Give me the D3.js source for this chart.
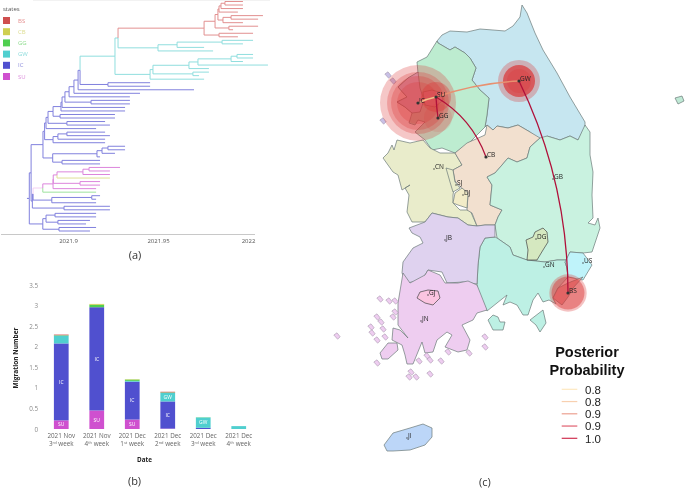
<!DOCTYPE html>
<html><head><meta charset="utf-8">
<script src="https://cdnjs.cloudflare.com/ajax/libs/d3/7.8.5/d3.min.js"></script>
<style>html,body{margin:0;padding:0;background:#fff}svg{display:block;filter:blur(.3px)}text{font-family:"Open Sans",sans-serif}</style>
</head><body><svg id="c" width="685" height="488"></svg>
<script>
// ---------- DATA ----------
const stateNames = ["BS","CB","GG","GW","IC","SU"];
const stateFill = ["#cf4f4f","#cfcf50","#50cf50","#50cfcf","#5050cf","#cf50cf"];
const stateText = ["#e58f8f","#dddd90","#90dd90","#8fdcdc","#8f8fdd","#dd90dd"];
const treeTickValues = [0,50,100];           // thousandths of a year after 2021.9
const treeTickLabels = ["2021.9","2021.95","2022"];
const N=(t,s,...kids)=>({t,s,kids});
const redClade = N(75.6,"BS",
  N(81.7,"BS",
    N(83.3,"BS",
      N(83.9,"BS",N(85,"BS",N(87.2,"BS",N(97.2,"BS"),N(97.2,"BS")),N(97.2,"BS")),N(94.4,"BS")),
      N(86.1,"BS",N(90.6,"BS",N(108.3,"BS"),N(105.6,"BS")),N(97.2,"BS"))),
    N(89.4,"BS",N(105.6,"BS"),N(91.7,"BS"))),
  N(83.9,"BS",N(102.8,"BS"),N(94.4,"BS")));
const cyanUpper = N(50,"GW",N(60.6,"GW",N(85.6,"GW",N(102.8,"GW"),N(97.2,"GW")),N(75.6,"GW")),N(80.6,"GW"));
const cyanLower = N(45.6,"GW",
  N(47.2,"GW",
    N(67.2,"GW",
      N(72.2,"GW",N(90.6,"GW",N(93.9,"GW",N(102.8,"GW"),N(102.8,"GW")),N(97.2,"GW")),N(111.1,"GW")),
      N(78.3,"GW")),
    N(69.4,"GW",N(78.3,"GW"),N(72.8,"GW"))),
  N(75.6,"GW"));
const gwClade = N(26.1,"GW",N(27.8,"GW",redClade,cyanUpper),cyanLower);
const icLadder =
 N(-8.3,"IC",
  N(-3.9,"IC",
   N(-3.3,"IC",
    N(-1.7,"IC",
     N(0.6,"IC",
      N(3.3,"IC",
       N(5.6,"IC",
        N(6.7,"IC",gwClade,N(22.2,"IC",N(45.6,"IC"),N(45.6,"IC"))),
        N(70,"IC")),
       N(40,"IC")),
      N(34.4,"IC")),
     N(12.8,"IC",N(34.4,"IC"),N(34.4,"IC"))),
    N(31.7,"IC")),
   N(31.7,"IC")),
  N(-4.4,"IC",N(26.1,"IC"),N(26.1,"IC")));
const upperBlock = N(-13,"IC",
  N(-12.2,"IC",N(-11.1,"IC",icLadder,N(-0.6,"IC",N(20.6,"IC"),N(23.3,"IC"))),N(15.6,"IC")),
  N(-8.3,"IC",N(-5.6,"IC",N(-0.6,"IC",N(20.6,"IC"),N(23.3,"IC")),N(20.6,"IC")),N(20.6,"IC")));
const midBlock = N(-8.5,"IC",
  N(16.1,"IC",N(18.9,"IC",N(22.2,"IC",N(31.7,"IC"),N(31.7,"IC")),N(26.1,"IC")),N(17.8,"IC")),
  N(-3.3,"IC",N(17.8,"IC"),N(17.8,"IC")));
const suClade = N(-14,"SUL",
  N(-8.3,"SU",
    N(-8.2,"SU",
      N(-6.1,"SU",N(8.3,"SU",N(11.7,"SU",N(28.9,"SU"),N(23.3,"SU")),N(23.3,"SU")),N(23.3,"CB")),
      N(6.7,"SU",N(17.8,"SU"),N(17.8,"SU"))),
    N(15.6,"SU")),
  N(15.6,"GG"));
const lowBlock = N(-19.8,"IC",
  N(-19.4,"IC",suClade,N(-9,"IC",N(13.2,"IC",N(17.8,"IC"),N(15.6,"IC")),N(15.6,"IC"))),
  N(-2.2,"IC",N(23.3,"IC"),N(23.3,"IC")));
const bottomBlock = N(-14,"IC",
  N(-12.2,"IC",N(-7.2,"IC",N(15.6,"IC"),N(15.6,"IC")),N(-5.6,"IC",N(12.2,"IC"),N(10,"IC"))),
  N(-5,"IC",N(15.6,"IC"),N(12.2,"IC")));
const treeRoot = N(-21.5,"IC",N(-20.5,"IC",N(-13.9,"IC",upperBlock,midBlock),lowBlock),bottomBlock);

const weekMonth = ["2021 Nov","2021 Nov","2021 Dec","2021 Dec","2021 Dec","2021 Dec"];
const weekNum = ["3","4","1","2","3","4"];
const weekSup = ["rd","th","st","nd","rd","th"];
const seriesKeys = ["SU","IC","GW","GG","CB","BS"];
const seriesSU = [0.21,0.45,0.23,0.01,0,0];
const seriesIC = [1.87,2.51,0.92,0.66,0.03,0];
const seriesGW = [0.19,0,0.02,0.21,0.25,0.07];
const seriesGG = [0.01,0.06,0.03,0.01,0.005,0];
const seriesCB = [0,0.02,0.01,0,0,0];
const seriesBS = [0.015,0,0,0.015,0,0];
const yTicks = [0,0.5,1,1.5,2,2.5,3,3.5];
const barLabels = [["SU","IC"],["SU","IC"],["SU","IC"],["IC","GW"],["GW"],[]];

// map rings in map units
const ringGW=[[437,41],[442,35],[450,31],[467,32],[480,29],[493,30],[505,31],[513,26],[520,17],[522,5],[527,13],[535,33],[543,50],[557,73],[570,97],[585,122],[585,128],[578,140],[570,136],[560,140],[547,136],[543,142],[537,138],[530,132],[518,125],[508,128],[497,126],[493,130],[487,125],[485,127],[487,115],[489,98],[480,90],[472,80],[476,68],[470,58],[465,53],[455,47],[450,50],[438,43]];
const ringGG=[[437,41],[438,43],[450,50],[455,47],[465,53],[470,58],[476,68],[472,80],[480,90],[489,98],[487,115],[485,127],[470,142],[455,153],[442,148],[432,150],[425,140],[415,132],[425,122],[418,120],[415,125],[409,123],[412,113],[405,107],[397,102],[407,97],[398,87],[408,78],[418,73],[417,62],[427,57]];
const ringIC=[[398,87],[408,78],[418,72],[420,88],[424,100],[420,112],[412,113],[405,107],[397,102],[407,97]];
const ringSU=[[423,92],[432,90],[442,93],[443,100],[435,107],[425,105]];
const ringCB=[[455,153],[467,143],[485,135],[487,125],[493,130],[497,126],[508,128],[518,125],[530,132],[540,138],[530,147],[527,158],[517,162],[508,158],[502,165],[495,173],[487,177],[492,185],[490,205],[502,210],[498,217],[495,225],[485,225],[477,226],[472,213],[467,210],[468,195],[455,181],[453,170],[462,165]];
const ringCN=[[397,140],[410,143],[423,140],[430,148],[440,153],[455,153],[462,165],[453,170],[455,182],[453,195],[453,203],[460,210],[470,210],[473,217],[477,226],[468,225],[458,218],[448,217],[432,213],[425,222],[412,222],[407,212],[409,195],[405,188],[410,185],[402,190],[398,175],[393,172],[383,158],[388,153],[392,145],[394,150]];
const ringSJ=[[446,168],[453,170],[455,182],[460,188],[453,192],[450,182]];
const ringDJ=[[455,193],[462,188],[468,193],[467,208],[458,205],[453,203]];
const ringGB=[[540,138],[547,136],[560,140],[570,136],[578,140],[585,125],[590,132],[590,155],[593,172],[592,195],[593,218],[588,223],[595,225],[598,218],[600,228],[592,252],[583,253],[570,252],[567,260],[557,260],[545,262],[527,260],[513,255],[510,247],[497,238],[495,225],[498,217],[502,210],[490,205],[492,185],[487,177],[495,173],[502,165],[508,158],[517,162],[527,158],[530,147]];
const ringDG=[[535,232],[543,228],[547,232],[548,242],[543,250],[537,260],[527,260],[528,250],[526,240],[533,237]];
const ringUS=[[570,252],[583,253],[592,265],[583,280],[568,277],[567,268],[565,262]];
const ringBS=[[583,277],[573,288],[568,297],[562,305],[553,298],[558,288],[568,283]];
const ringGN=[[495,237],[497,238],[510,247],[513,255],[527,260],[545,262],[557,260],[567,260],[565,262],[567,268],[568,277],[558,288],[553,298],[556,304],[549,300],[543,302],[538,293],[533,300],[528,315],[523,315],[517,305],[510,302],[503,305],[507,295],[497,303],[487,311],[478,293],[477,285],[478,265],[480,247],[485,238]];
const ringNamhae=[[493,315],[498,317],[500,322],[505,322],[503,330],[493,330],[488,320]];
const ringGeoje=[[530,320],[543,310],[546,323],[540,332],[536,325]];
const ringJB=[[432,213],[448,217],[458,218],[468,225],[477,226],[485,225],[495,225],[495,237],[485,238],[480,247],[478,265],[477,284],[463,282],[447,283],[442,272],[428,270],[422,280],[407,283],[402,273],[403,262],[413,248],[423,243],[420,237],[412,233],[409,228],[425,222]];
const ringJN=[[403,273],[410,283],[425,275],[428,270],[440,275],[445,283],[458,283],[468,281],[477,285],[487,310],[477,313],[473,320],[462,325],[470,340],[467,350],[458,352],[445,347],[452,335],[447,332],[437,340],[433,352],[425,353],[422,342],[413,364],[407,364],[405,355],[402,345],[392,340],[393,328],[400,330],[408,338],[398,325],[398,303]];
const ringJindo=[[380,353],[388,343],[397,343],[398,350],[388,359],[382,359]];
const ringGJ=[[417,298],[420,292],[428,290],[438,291],[440,298],[433,305],[425,303]];
const ringJI=[[384,445],[393,433],[410,428],[423,424],[432,428],[432,437],[425,445],[410,450],[393,451],[387,451]];
const ringUL=[[675,98],[682,96],[684,101],[678,104]];
const isletsJN=[[380,299],[389,301],[395,301],[395,312],[377,317],[381,322],[393,317],[383,329],[371,327],[372,333],[377,340],[385,337],[337,336],[377,363],[411,372],[409,377],[416,377],[430,374],[441,361],[419,361],[427,356],[430,360],[448,352],[469,353],[485,347],[485,337]];
const isletsIC=[[388,75],[393,81],[383,121]];

const regions=[
 [ringGW,"#c6e6f0"],[ringGG,"#bdecd0"],[ringIC,"#d8cfee"],[ringSU,"#d8d8ee"],[ringCN,"#e9eccb"],[ringCB,"#f2e0cf"],
 [ringSJ,"#e9eccb"],[ringDJ,"#f2ecc8"],[ringGB,"#c9f2e0"],[ringGN,"#bdf0e4"],[ringNamhae,"#bdf0e4"],[ringGeoje,"#bdf0e4"],
 [ringDG,"#d5e8c0"],[ringUS,"#bff3fa"],[ringBS,"#eeb0b0"],[ringJB,"#dfd2ef"],[ringJN,"#eecdf0"],[ringJindo,"#eecdf0"],
 [ringGJ,"#fbc4e0"],[ringJI,"#bcd6f8"],[ringUL,"#bfe9d5"]];

const siteNames=["IC","SU","GG","GW","CB","BS","CN","SJ","DJ","GB","DG","JB","GN","US","GJ","JN","JI"];
const siteX=[418,436,438,519,486,568,434,456,463,553,536,445,544,583,428,421,407];
const siteY=[103,97,118,81,157,293,169,185,195,179,239,240,267,263,295,321,438];
const supportFrom=["IC","SU","SU","SU","GW"];
const supportTo=["SU","GW","GG","CB","BS"];
const supportProb=[0.80,0.85,1.0,1.0,1.0];
const supportBend=[-0.06,-0.07,0.02,-0.18,-0.115];
const pulseSite=["IC","IC","IC","IC","SU","GG","GW","GW","GW","BS","BS"];
const pulseSize=[38,31,27,21,15,14,21,16,12,18.7,16.5];
const pulseAlpha=[.28,.28,.28,.25,.35,.12,.3,.7,.25,.3,.45];
const legendTitle=["Posterior","Probability"];
const legendLabels=["0.8","0.8","0.9","0.9","1.0"];
const legendColors=["#fde8c0","#f8d0b0","#eca090","#e06070","#d03050"];

// ---------- PANEL A ----------
const svg=d3.select("#c");
const colorOf=s=>({BS:"#e08a8a",CB:"#dede90",GG:"#98e098",GW:"#8adcdc",IC:"#7a7adb",SU:"#da80da",SUL:"#f2cff2"})[s];
const xT=d3.scaleLinear().domain([0,100]).range([68,248]);
const yT=d3.scaleLinear().domain([0,65]).range([1.5,231]);
const gA=svg.append("g");
const rootH=d3.hierarchy(treeRoot,d=>d.kids);
rootH.leaves().forEach((l,i)=>l.row=i);
rootH.eachAfter(n=>{ if(n.children) n.row=(n.children[0].row+n.children[n.children.length-1].row)/2; });
gA.append("line").attr("x1",33).attr("x2",270).attr("y1",.5).attr("y2",.5).attr("stroke","#f2f2f2");
gA.selectAll("path.b").data(rootH.links()).join("path").attr("class","b").attr("fill","none")
  .attr("stroke",d=>colorOf(d.target.data.s)).attr("stroke-width",.95)
  .attr("d",d=>{const p=d3.path();p.moveTo(xT(d.source.data.t),yT(d.source.row));p.lineTo(xT(d.source.data.t),yT(d.target.row));p.lineTo(xT(d.target.data.t),yT(d.target.row));return p.toString();});
gA.append("path").attr("fill","none").attr("stroke",colorOf("IC")).attr("d",()=>{const p=d3.path();p.moveTo(xT(-22.8),yT(rootH.row));p.lineTo(xT(treeRoot.t),yT(rootH.row));return p.toString();});
const axT=gA.append("g").attr("transform","translate(0,234)").call(d3.axisBottom(xT).tickValues(treeTickValues).tickSize(0).tickFormat((d,i)=>treeTickLabels[i]));
axT.select(".domain").remove();
gA.append("line").attr("x1",1).attr("x2",255).attr("y1",234.5).attr("y2",234.5).attr("stroke","#c8c8c8");
axT.selectAll("text").attr("dy",0).attr("y",9).style("font-size","6px").attr("fill","#555");
const leg=gA.append("g");
leg.append("text").attr("x",3).attr("y",11).text("states").style("font-size","6px").attr("fill","#555");
const yLeg=d3.scalePoint().domain(stateNames).range([20.5,76.5]);
leg.selectAll("rect").data(stateNames).join("rect").attr("x",3).attr("width",7).attr("y",d=>yLeg(d)-3.5).attr("height",7).attr("fill",(d,i)=>stateFill[i]);
leg.selectAll("text.s").data(stateNames).join("text").attr("class","s").attr("x",18).attr("y",d=>yLeg(d)+2).text(d=>d).style("font-size","6px").attr("fill",(d,i)=>stateText[i]);
const caption=(t,x,y)=>svg.append("text").attr("x",x).attr("y",y).attr("text-anchor","middle").text(t).style("font-size","11px").attr("fill","#333");
caption("(a)",135,259);

// ---------- PANEL B ----------
const rows=weekNum.map((w,i)=>({i,SU:seriesSU[i],IC:seriesIC[i],GW:seriesGW[i],GG:seriesGG[i],CB:seriesCB[i],BS:seriesBS[i]}));
const xB=d3.scaleBand().domain(rows.map(d=>d.i)).range([43.5,256.5]).paddingInner(.585).paddingOuter(.293);
const yB=d3.scaleLinear().domain([0,3.5]).range([429,285]);
const fillB={SU:stateFill[5],IC:stateFill[4],GW:stateFill[3],GG:stateFill[2],CB:stateFill[1],BS:stateFill[0]};
const stacked=d3.stack().keys(seriesKeys)(rows);
const gB=svg.append("g");
gB.selectAll("g.s").data(stacked).join("g").attr("class","s").attr("fill",d=>fillB[d.key])
 .selectAll("rect").data(d=>d).join("rect")
 .attr("x",d=>xB(d.data.i)).attr("width",xB.bandwidth()).attr("y",d=>yB(d[1])).attr("height",d=>Math.max(0,yB(d[0])-yB(d[1])));
stacked.forEach(s=>s.forEach(d=>{
  if(barLabels[d.data.i].includes(s.key)) gB.append("text").attr("x",xB(d.data.i)+xB.bandwidth()/2).attr("y",yB((d[0]+d[1])/2)+1.8)
    .attr("text-anchor","middle").text(s.key).style("font-size","5px").attr("fill","#fff");
}));
const axY=gB.append("g").attr("transform","translate(38,0)").call(d3.axisLeft(yB).tickValues(yTicks).tickSize(0).tickFormat(d3.format("~g")));
axY.select(".domain").remove();
axY.selectAll("text").attr("x",0).style("font-size","6.3px").attr("fill","#8a8a8a");
rows.forEach((r,i)=>{
  const cx=xB(i)+xB.bandwidth()/2;
  gB.append("text").attr("x",cx).attr("y",437.5).attr("text-anchor","middle").text(weekMonth[i]).style("font-size","6.3px").attr("fill","#666");
  const t=gB.append("text").attr("x",cx).attr("y",445.5).attr("text-anchor","middle").style("font-size","6.3px").attr("fill","#666");
  t.append("tspan").text(weekNum[i]);
  t.append("tspan").text(weekSup[i]).attr("dy",-2).style("font-size","4px");
  t.append("tspan").text(" week").attr("dy",2);
});
gB.append("text").attr("transform","translate(17.5,358) rotate(-90)").attr("text-anchor","middle").text("Migration Number").style("font-size","6.6px").style("font-weight","700").attr("fill","#222");
gB.append("text").attr("x",144.5).attr("y",462).attr("text-anchor","middle").text("Date").style("font-size","6.3px").style("font-weight","700").attr("fill","#222");
caption("(b)",134.5,485);

// ---------- PANEL C ----------
const gC=svg.append("g");
const geo=d3.geoPath(d3.geoIdentity());
const poly=r=>({type:"Polygon",coordinates:[[...r,r[0]]]});
const edge="#6b7a78";
gC.selectAll("path.r").data(regions).join("path").attr("class","r").attr("d",d=>geo(poly(d[0]))).attr("fill",d=>d[1]).attr("stroke",d=>d[0]===ringDG||d[0]===ringGJ?"#444":edge).attr("stroke-width",.7);
const islet=([x,y],f)=>gC.append("path").attr("d",geo(poly([[x-3.2,y-1],[x,y-3.2],[x+3.2,y+.8],[x+.6,y+3.2]]))).attr("fill",f).attr("stroke","#9a8aa0").attr("stroke-width",.5);
isletsJN.forEach(p=>islet(p,"#eecdf0"));
isletsIC.forEach(p=>islet(p,"#c8c0e6"));
const pos=n=>{const i=siteNames.indexOf(n);return [siteX[i],siteY[i]];};
const rScale=d3.scaleIdentity();
gC.selectAll("circle.p").data(pulseSite).join("circle").attr("class","p")
 .attr("cx",d=>pos(d)[0]).attr("cy",d=>pos(d)[1]).attr("r",(d,i)=>rScale(pulseSize[i]))
 .attr("fill","#dc3535").attr("fill-opacity",(d,i)=>pulseAlpha[i]);
const probColor=d3.scaleLinear().domain([.8,.85,1]).range(["#f2c08a","#e89070","#b0103a"]);
gC.selectAll("path.a").data(supportFrom).join("path").attr("class","a").attr("fill","none")
 .attr("stroke",(d,i)=>probColor(supportProb[i])).attr("stroke-width",1.3)
 .attr("d",(d,i)=>{
   const a=pos(d),b=pos(supportTo[i]),k=supportBend[i];
   const dx=b[0]-a[0],dy=b[1]-a[1];
   const p=d3.path();p.moveTo(a[0],a[1]);
   p.quadraticCurveTo((a[0]+b[0])/2-dy*k,(a[1]+b[1])/2+dx*k,b[0],b[1]);return p.toString();});
const bigDot=new Set(["IC","SU","GG","GW","CB","BS"]);
gC.selectAll("circle.n").data(siteNames).join("circle").attr("class","n")
 .attr("cx",d=>pos(d)[0]).attr("cy",d=>pos(d)[1]).attr("r",d=>bigDot.has(d)?1.6:.7).attr("fill","#333");
gC.selectAll("text.n").data(siteNames).join("text").attr("class","n")
 .attr("x",d=>pos(d)[0]+1).attr("y",d=>pos(d)[1]-.2).text(d=>d).style("font-size","6.5px").attr("fill","#222");
legendTitle.forEach((t,i)=>gC.append("text").attr("x",587).attr("y",356.5+i*18.6).attr("text-anchor","middle").text(t)
  .style("font-family","'Liberation Sans'").style("font-size","14.5px").style("font-weight","700").attr("fill","#111"));
const yL=d3.scalePoint().domain(d3.range(5)).range([389.3,438.3]);
legendLabels.forEach((t,i)=>{
  gC.append("line").attr("x1",561.7).attr("x2",577.3).attr("y1",yL(i)).attr("y2",yL(i)).attr("stroke",legendColors[i]).attr("stroke-width",1.2);
  gC.append("text").attr("x",585).attr("y",yL(i)+4.2).text(t).style("font-family","'Liberation Sans'").style("font-size","11.5px").attr("fill","#222");
});
caption("(c)",485,486);
</script></body></html>
